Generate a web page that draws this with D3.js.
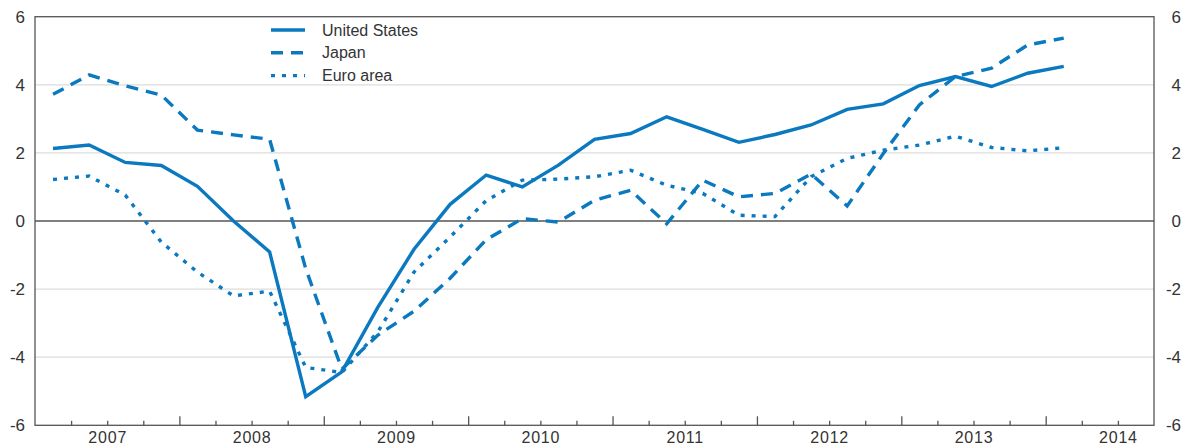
<!DOCTYPE html>
<html>
<head>
<meta charset="utf-8">
<script src="https://cdn.jsdelivr.net/npm/d3@7"></script>
<style>
  body { margin: 0; background: #fff; }
  svg { display: block; font-family: "Liberation Sans", Arial, sans-serif; }
</style>
</head>
<body>
<div id="chart"></div>
<script>
// quarterly observations, 2007 Q1 to 2014 Q1
const quarters = [
    "2007 Q1", "2007 Q2", "2007 Q3", "2007 Q4",
    "2008 Q1", "2008 Q2", "2008 Q3", "2008 Q4",
    "2009 Q1", "2009 Q2", "2009 Q3", "2009 Q4",
    "2010 Q1", "2010 Q2", "2010 Q3", "2010 Q4",
    "2011 Q1", "2011 Q2", "2011 Q3", "2011 Q4",
    "2012 Q1", "2012 Q2", "2012 Q3", "2012 Q4",
    "2013 Q1", "2013 Q2", "2013 Q3", "2013 Q4",
    "2014 Q1"
];

const unitedStates = [
    2.13, 2.23, 1.72, 1.63,
    1.02, 0.0, -0.91, -5.16,
    -4.43, -2.53, -0.83, 0.49,
    1.35, 1.0, 1.64, 2.4,
    2.57, 3.06, 2.69, 2.31,
    2.54, 2.82, 3.28, 3.44,
    3.98, 4.24, 3.95, 4.34,
    4.54
];

const japan = [
    3.72, 4.29, 3.97, 3.70,
    2.67, 2.53, 2.40, -1.4,
    -4.35, -3.35, -2.65, -1.68,
    -0.55, 0.07, -0.03, 0.61,
    0.9, -0.08, 1.2, 0.71,
    0.81, 1.38, 0.44, 1.98,
    3.41, 4.24, 4.49, 5.17,
    5.37
];

const euroArea = [
    1.22, 1.32, 0.76, -0.62,
    -1.5, -2.2, -2.06, -4.3,
    -4.45, -3.25, -1.5, -0.47,
    0.6, 1.2, 1.23, 1.3,
    1.49, 1.05, 0.81, 0.17,
    0.13, 1.3, 1.84, 2.08,
    2.23, 2.49, 2.16, 2.06,
    2.15
];

const seriesNames = ["United States", "Japan", "Euro area"];
const yTicks = [-6, -4, -2, 0, 2, 4, 6];
const yearLabels = [2007, 2008, 2009, 2010, 2011, 2012, 2013, 2014];

const width = 1183, height = 448;
const blue = "#0a79bf";
const frameColor = "#555";
const textColor = "#333";
const dashes = { "United States": null, "Japan": "12,8", "Euro area": "4,7" };

const svg = d3.select("#chart").append("svg")
    .attr("width", width)
    .attr("height", height);

// scales
const x = d3.scaleLinear().domain([2007, 2014.75]).range([35, 1154]);
const y = d3.scaleLinear().domain([-6, 6]).range([425.3, 16.7]);

// "2009 Q3" -> middle of that quarter
const qPos = q => {
    const [yr, qq] = q.split(" Q").map(Number);
    return yr + (qq - 0.5) / 4;
};

// gridlines
svg.append("g")
    .selectAll("line")
    .data(yTicks.filter(t => t !== 0 && Math.abs(t) !== 6))
    .join("line")
    .attr("x1", x.range()[0])
    .attr("x2", x.range()[1])
    .attr("y1", d => y(d))
    .attr("y2", d => y(d))
    .attr("stroke", "#dcdcdc")
    .attr("stroke-width", 1.3);

// zero line
svg.append("line")
    .attr("x1", x.range()[0])
    .attr("x2", x.range()[1])
    .attr("y1", y(0))
    .attr("y2", y(0))
    .attr("stroke", frameColor)
    .attr("stroke-width", 1.3);

// bottom axis: quarter ticks (minor), year ticks (major), labels mid-year
const quarterTicks = d3.range(2007.25, 2014.75, 0.25).filter(v => v % 1 !== 0);
const yearTicks = d3.range(2008, 2015);

const minorAxis = svg.append("g")
    .attr("transform", `translate(0,${y(-6)})`)
    .call(d3.axisBottom(x).tickValues(quarterTicks).tickSize(-4.5).tickFormat(""));
minorAxis.select(".domain").remove();

const majorAxis = svg.append("g")
    .attr("transform", `translate(0,${y(-6)})`)
    .call(d3.axisBottom(x).tickValues(yearTicks).tickSize(-9).tickFormat(""));
majorAxis.select(".domain").remove();

svg.selectAll(".tick line")
    .attr("stroke", frameColor)
    .attr("stroke-width", 1.3);

const labelAxis = svg.append("g")
    .attr("transform", `translate(0,${y(-6)})`)
    .call(d3.axisBottom(x)
        .tickValues(yearLabels.map(v => v + 0.5))
        .tickSize(0)
        .tickPadding(6)
        .tickFormat(v => String(v - 0.5)));
labelAxis.select(".domain").remove();
labelAxis.selectAll("text")
    .attr("font-size", "16px")
    .attr("letter-spacing", "0.8px")
    .attr("font-family", "Liberation Sans, Arial, sans-serif")
    .attr("fill", textColor);

// left and right y labels (plain hyphen for negatives)
const leftAxis = svg.append("g")
    .attr("transform", `translate(${x.range()[0]},0)`)
    .call(d3.axisLeft(y).tickValues(yTicks).tickSize(0).tickPadding(10)
        .tickFormat(d => String(d)));
leftAxis.select(".domain").remove();

const rightAxis = svg.append("g")
    .attr("transform", `translate(${x.range()[1]},0)`)
    .call(d3.axisRight(y).tickValues(yTicks).tickSize(0)
        .tickFormat(d => String(d)));
rightAxis.select(".domain").remove();
rightAxis.selectAll("text")
    .attr("text-anchor", "end")
    .attr("x", 27);

[leftAxis, rightAxis].forEach(g => g.selectAll("text")
    .attr("font-size", "17px")
    .attr("font-family", "Liberation Sans, Arial, sans-serif")
    .attr("fill", textColor));

// frame
svg.append("rect")
    .attr("x", x.range()[0])
    .attr("y", y(6))
    .attr("width", x.range()[1] - x.range()[0])
    .attr("height", y(-6) - y(6))
    .attr("fill", "none")
    .attr("stroke", frameColor)
    .attr("stroke-width", 1.3);

// lines
const series = [
    { name: "United States", values: unitedStates },
    { name: "Japan", values: japan },
    { name: "Euro area", values: euroArea }
];

const line = d3.line()
    .x((d, i) => x(qPos(quarters[i])))
    .y(d => y(d));

svg.append("g")
    .selectAll("path")
    .data(series)
    .join("path")
    .attr("d", d => line(d.values))
    .attr("fill", "none")
    .attr("stroke", blue)
    .attr("stroke-width", 3.4)
    .attr("stroke-linejoin", "miter")
    .attr("stroke-dasharray", d => dashes[d.name]);

// legend
const legend = svg.append("g")
    .selectAll("g")
    .data(seriesNames)
    .join("g")
    .attr("transform", (d, i) => `translate(271,${30 + i * 22.8})`);

legend.append("line")
    .attr("x1", 0)
    .attr("x2", 34)
    .attr("stroke", blue)
    .attr("stroke-width", 3.4)
    .attr("stroke-dasharray", d => dashes[d]);

legend.append("text")
    .attr("x", 51)
    .attr("dy", "0.35em")
    .attr("font-size", "16px")
    .attr("fill", textColor)
    .text(d => d);
</script>
</body>
</html>
